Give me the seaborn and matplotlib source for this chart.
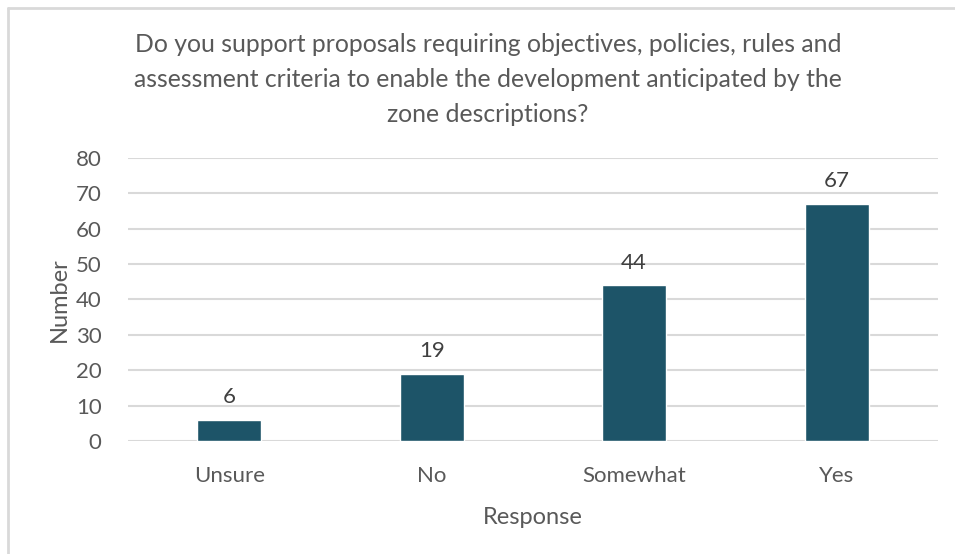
import matplotlib
matplotlib.use("Agg")
import matplotlib.pyplot as plt
from matplotlib.lines import Line2D
import seaborn as sns
import pandas as pd

categories = ["Unsure", "No", "Somewhat", "Yes"]
counts = [6, 19, 44, 67]
y_ticks = [0, 10, 20, 30, 40, 50, 60, 70, 80]
title = ("Do you support proposals requiring objectives, policies, rules and\n"
         "assessment criteria to enable the development anticipated by the\n"
         "zone descriptions?")

sns.set_theme(style="white")
plt.rcParams["font.family"] = ["Lato", "DejaVu Sans"]

text_color = "#595959"
bar_color = "#1D5468"
grid_color = "#D9D9D9"

df = pd.DataFrame({"Response": categories, "Number": counts})

fig = plt.figure(figsize=(9.55, 5.54), dpi=100)
ax = fig.add_axes([0.134, 0.204, 0.848, 0.511])

sns.barplot(data=df, x="Response", y="Number", color=bar_color,
            saturation=1, width=0.316, ax=ax, zorder=3)

ax.set_ylim(0, 80)
ax.set_xlim(-0.5, 3.5)
ax.set_yticks(y_ticks)
ax.yaxis.grid(True, color=grid_color, linewidth=1.5, zorder=0)
ax.set_axisbelow(True)
for side in ["top", "right", "left", "bottom"]:
    ax.spines[side].set_visible(False)
ax.tick_params(axis="both", length=0, labelsize=16, colors=text_color)
ax.tick_params(axis="x", pad=18)
ax.tick_params(axis="y", pad=19)

ax.set_xlabel("Response", fontsize=17, color=text_color, labelpad=15)
ax.set_ylabel("Number", fontsize=17, color=text_color, labelpad=4)

for container in ax.containers:
    ax.bar_label(container, fmt="%d", padding=9, fontsize=16, color="#404040")

fig.text(488 / 955, 1 - 33 / 554, title, ha="center", va="top",
         fontsize=17.8, color=text_color, linespacing=1.62)

# light frame along the top and left edges
fig.add_artist(Line2D([7.5 / 955, 1], [1 - 7.5 / 554, 1 - 7.5 / 554],
                      transform=fig.transFigure, color="#D9D9D9", linewidth=2))
fig.add_artist(Line2D([7.5 / 955, 7.5 / 955], [0, 1 - 7.5 / 554],
                      transform=fig.transFigure, color="#D9D9D9", linewidth=2))

fig.savefig("out.png", dpi=100, facecolor="white")
